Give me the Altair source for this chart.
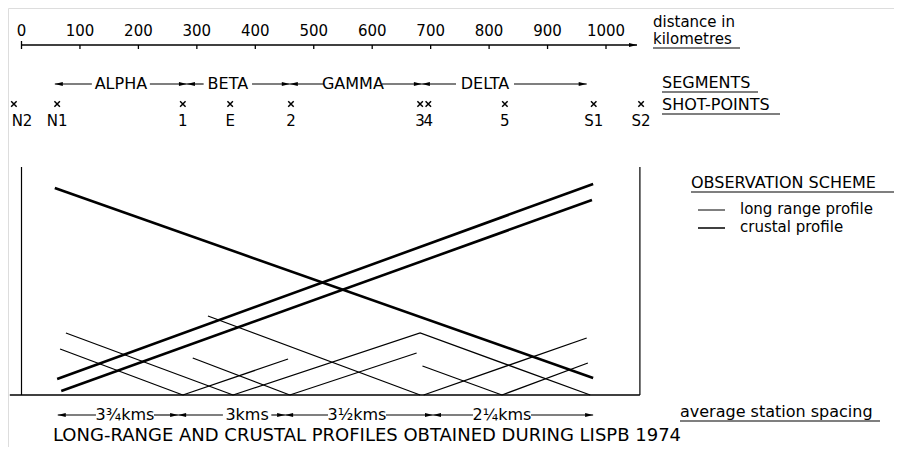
import altair as alt
import pandas as pd

# ---------------- values ----------------
tick_km = [0, 100, 200, 300, 400, 500, 600, 700, 800, 900, 1000]

shot_names = ["N2", "N1", "1", "E", "2", "3", "4", "5", "S1", "S2"]
shot_km = [-13, 61, 276, 357, 461, 682, 696, 827, 979, 1060]

segment_names = ["ALPHA", "BETA", "GAMMA", "DELTA"]
segment_start_km = [57, 283, 459, 685]
segment_end_km = [283, 459, 685, 967]
segment_label_km = [170, 353, 567, 793]

spacing_labels = ["3¾kms", "3kms", "3½kms", "2¼kms"]
spacing_start_km = [62, 268, 451, 704]
spacing_end_km = [268, 451, 704, 978]
spacing_label_km = [177, 386, 574, 822]

# long range profiles (thick lines): distance in km, relative height
long_range_names = ["LR1", "LR2", "LR3"]
long_range_km = [[57, 978], [61, 978], [68, 976]]
long_range_h = [[207, 17], [16, 211], [4, 195]]

# crustal profiles (thin lines)
crustal_names = ["C1", "C2", "C3", "C4", "C5", "C6", "C7", "C8", "C9", "C10"]
crustal_km = [[76, 362], [66, 276], [276, 456], [293, 459], [319, 682],
              [362, 682, 973], [459, 676], [686, 822], [688, 967], [822, 969]]
crustal_h = [[62, 0], [46, 0], [0, 36], [37, 0], [79, 0],
             [0, 62, 0], [0, 42], [29, 0], [0, 57], [0, 32]]

axis_end_km = 1053
frame_km = [0, 1058]
frame_top_h = 228
baseline_start_km = -20

legend_labels = ["long range profile", "crustal profile"]

# ---------------- layout helpers (pixel <-> data) ----------------
X0_PX, KM_PX, BASE_PY = 21.5, 0.5845, 395
W, H = 886, 439
FONT = "DejaVu Sans"


def km_of(px):
    return (px - X0_PX) / KM_PX


def h_of(py):
    return BASE_PY - py


xscale = alt.Scale(domain=[km_of(8), km_of(8 + W)], nice=False, zero=False)
yscale = alt.Scale(domain=[h_of(8 + H), h_of(8)], nice=False, zero=False)


def X(f):
    return alt.X(f, type="quantitative", scale=xscale, axis=None)


def Y(f):
    return alt.Y(f, type="quantitative", scale=yscale, axis=None)


def X2(f):
    return alt.X2(f)


def Y2(f):
    return alt.Y2(f)


layers = []

# ---------------- profile lines ----------------
rows = []
for n, ks, hs in zip(long_range_names, long_range_km, long_range_h):
    for i, (k, h) in enumerate(zip(ks, hs)):
        rows.append({"name": n, "i": i, "km": k, "h": h})
lr_df = pd.DataFrame(rows)
rows = []
for n, ks, hs in zip(crustal_names, crustal_km, crustal_h):
    for i, (k, h) in enumerate(zip(ks, hs)):
        rows.append({"name": n, "i": i, "km": k, "h": h})
cr_df = pd.DataFrame(rows)

layers.append(alt.Chart(cr_df).mark_line(color="black", strokeWidth=1.3).encode(
    x=X("km"), y=Y("h"), detail="name:N", order="i:O"))
layers.append(alt.Chart(lr_df).mark_line(color="black", strokeWidth=2.6).encode(
    x=X("km"), y=Y("h"), detail="name:N", order="i:O"))

# ---------------- frame ----------------
frame_df = pd.DataFrame({"km": frame_km, "h0": [0, 0], "h1": [frame_top_h, frame_top_h]})
layers.append(alt.Chart(frame_df).mark_rule(color="black", strokeWidth=1.2).encode(
    x=X("km"), y=Y("h0"), y2=Y2("h1")))
base_df = pd.DataFrame({"k0": [baseline_start_km], "k1": [frame_km[1]], "h": [0]})
layers.append(alt.Chart(base_df).mark_rule(color="black", strokeWidth=1.5).encode(
    x=X("k0"), x2=X2("k1"), y=Y("h")))

# ---------------- top distance axis ----------------
ax_df = pd.DataFrame({"k0": [0], "k1": [axis_end_km], "h": [h_of(45)]})
layers.append(alt.Chart(ax_df).mark_rule(color="black", strokeWidth=1.3).encode(
    x=X("k0"), x2=X2("k1"), y=Y("h")))
tick_df = pd.DataFrame({"km": tick_km,
                        "h0": [h_of(41) if k == 0 else h_of(45) for k in tick_km],
                        "h1": [h_of(49)] * len(tick_km)})
layers.append(alt.Chart(tick_df).mark_rule(color="black", strokeWidth=1.3).encode(
    x=X("km"), y=Y("h0"), y2=Y2("h1")))
tl_df = pd.DataFrame({"km": tick_km, "t": [str(k) for k in tick_km], "h": h_of(31)})
layers.append(alt.Chart(tl_df).mark_text(font=FONT, fontSize=15, baseline="middle",
                                         align="center", color="black").encode(
    x=X("km"), y=Y("h"), text="t:N"))

ARROW_R = "M -2 -0.5 L 0 0 L -2 0.5 Z"
ARROW_L = "M 2 -0.5 L 0 0 L 2 0.5 Z"
CROSS = "M -1 -1 L 1 1 M -1 1 L 1 -1"
layers.append(alt.Chart(pd.DataFrame({"km": [axis_end_km], "h": [h_of(45)]})).mark_point(
    shape=ARROW_R, filled=True, size=64, color="black", opacity=1).encode(
    x=X("km"), y=Y("h")))


# ---------------- segment rows with arrows ----------------
def arrow_row(starts, ends, centers, labels, py, fs):
    pieces = []
    for s, e, c, l in zip(starts, ends, centers, labels):
        half = (len(l) * 0.6 * fs / 2 + 5) / KM_PX
        pieces.append({"k0": s, "k1": c - half, "h": h_of(py)})
        pieces.append({"k0": c + half, "k1": e, "h": h_of(py)})
    pdf = pd.DataFrame(pieces)
    out = [alt.Chart(pdf).mark_rule(color="black", strokeWidth=1.1).encode(
        x=X("k0"), x2=X2("k1"), y=Y("h"))]
    out.append(alt.Chart(pd.DataFrame({"km": starts, "h": h_of(py)})).mark_point(
        shape=ARROW_L, filled=True, size=64, color="black", opacity=1).encode(
        x=X("km"), y=Y("h")))
    out.append(alt.Chart(pd.DataFrame({"km": ends, "h": h_of(py)})).mark_point(
        shape=ARROW_R, filled=True, size=64, color="black", opacity=1).encode(
        x=X("km"), y=Y("h")))
    out.append(alt.Chart(pd.DataFrame({"km": centers, "t": labels, "h": h_of(py)})).mark_text(
        font=FONT, fontSize=fs, baseline="middle", align="center", color="black").encode(
        x=X("km"), y=Y("h"), text="t:N"))
    return out


layers += arrow_row(segment_start_km, segment_end_km, segment_label_km, segment_names, 84, 16)
layers += arrow_row(spacing_start_km, spacing_end_km, spacing_label_km, spacing_labels, 415, 16)

# ---------------- shot points ----------------
label_km = [max(k, km_of(22)) for k in shot_km]   # keep N2 label inside the page
sp_df = pd.DataFrame({"km": shot_km, "lk": label_km, "t": shot_names,
                      "hm": h_of(104), "hl": h_of(121)})
layers.append(alt.Chart(sp_df).mark_point(shape=CROSS, filled=False, size=30, strokeWidth=1.5,
                                          color="black", opacity=1).encode(
    x=X("km"), y=Y("hm")))
layers.append(alt.Chart(sp_df).mark_text(font=FONT, fontSize=15, baseline="middle",
                                         align="center", color="black").encode(
    x=X("lk"), y=Y("hl"), text="t:N"))

# ---------------- annotations / legend ----------------
ann = pd.DataFrame({
    "t": ["distance in", "kilometres", "SEGMENTS", "SHOT-POINTS", "OBSERVATION  SCHEME",
          legend_labels[0], legend_labels[1], "average station spacing"],
    "px": [653, 653, 662, 662, 691, 740, 740, 680],
    "py": [22, 39, 83, 105, 183, 209, 227, 412],
    "fs": [15, 15, 16, 16, 16, 15, 15, 16],
})
ann["km"] = km_of(ann["px"])
ann["h"] = h_of(ann["py"])
layers.append(alt.Chart(ann).mark_text(font=FONT, baseline="middle", align="left",
                                       color="black").encode(
    x=X("km"), y=Y("h"), text="t:N", size=alt.Size("fs:Q", scale=None, legend=None)))

title_df = pd.DataFrame({"t": ["LONG-RANGE AND CRUSTAL PROFILES OBTAINED DURING LISPB 1974"],
                         "km": [km_of(367)], "h": [h_of(436)]})
layers.append(alt.Chart(title_df).mark_text(font=FONT, fontSize=18, baseline="middle",
                                            align="center", color="black").encode(
    x=X("km"), y=Y("h"), text="t:N"))

ul = pd.DataFrame({"x0": [653, 662, 662, 691, 680], "x1": [740, 758, 780, 900, 880],
                   "py": [48, 92, 114, 192, 421]})
ul["k0"] = km_of(ul["x0"])
ul["k1"] = km_of(ul["x1"])
ul["h"] = h_of(ul["py"])
layers.append(alt.Chart(ul).mark_rule(color="black", strokeWidth=1.1).encode(
    x=X("k0"), x2=X2("k1"), y=Y("h")))

lg = pd.DataFrame({"name": legend_labels, "x0": [698, 698], "x1": [725, 725],
                   "py": [210, 228], "w": [1.0, 1.5]})
lg["k0"] = km_of(lg["x0"])
lg["k1"] = km_of(lg["x1"])
lg["h"] = h_of(lg["py"])
layers.append(alt.Chart(lg).mark_rule(color="black").encode(
    x=X("k0"), x2=X2("k1"), y=Y("h"),
    strokeWidth=alt.StrokeWidth("w:Q", scale=None, legend=None)))

chart = alt.layer(*layers).properties(
    width=W, height=H, padding=0, autosize=alt.AutoSizeParams(type="none")
).configure_view(stroke=None).configure(background="white")

chart.save("out.html", embed_options={"renderer": "svg", "actions": False})
